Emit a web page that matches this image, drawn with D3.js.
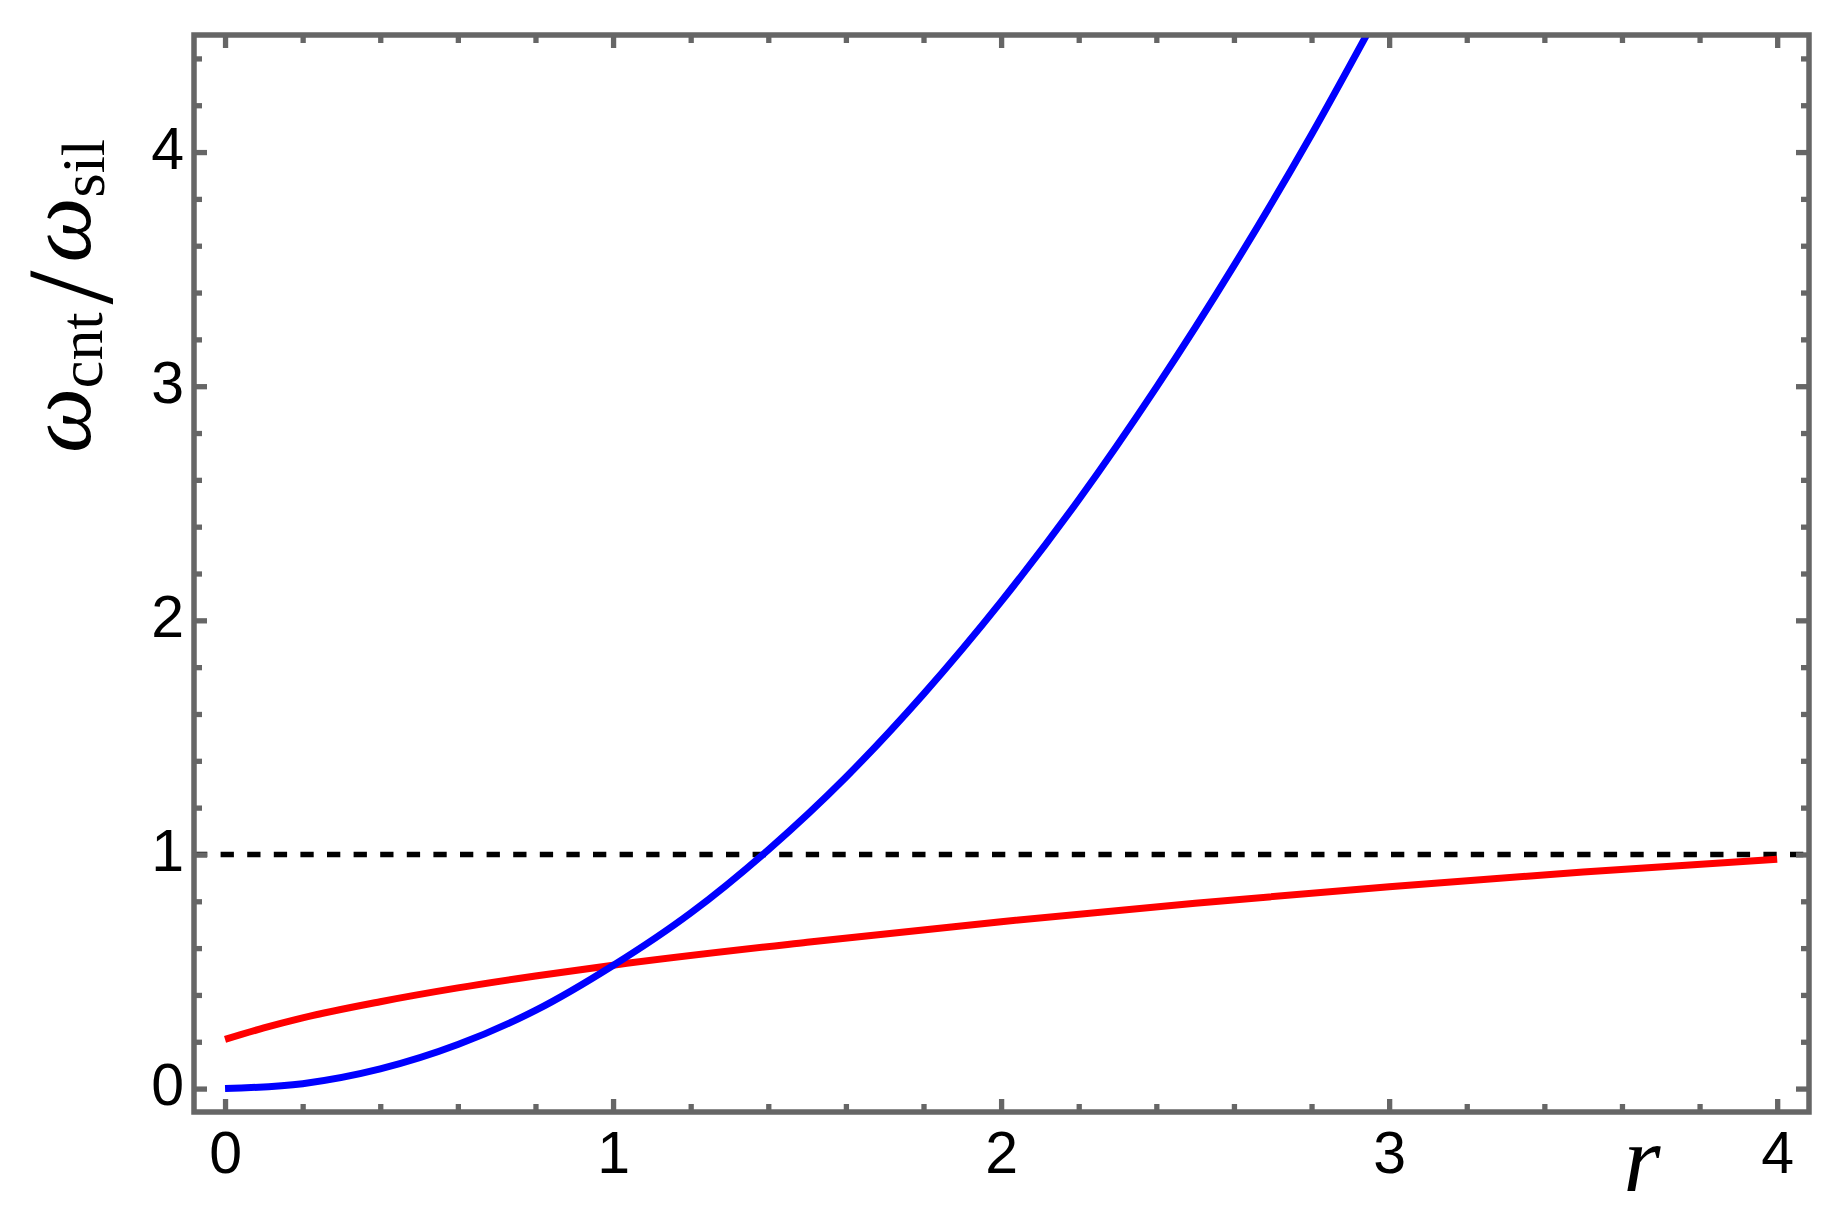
<!DOCTYPE html>
<html><head><meta charset="utf-8">
<script src="https://cdn.jsdelivr.net/npm/d3@7"></script>
<style>body{margin:0;background:#fff} svg{display:block}</style>
</head><body><svg id="c" width="1847" height="1219"></svg>
<script>
// ---- data ----
const rBlue   = [0, 0.2, 0.4, 0.6, 0.8, 1.0, 1.2, 1.4, 1.6, 1.8, 2.0, 2.2, 2.4, 2.6, 2.8, 2.95];
const wBlue   = [0, 0.021, 0.084, 0.188, 0.334, 0.526, 0.75, 1.02, 1.33, 1.685, 2.08, 2.515, 2.995, 3.515, 4.075, 4.525];
const rRed    = [0, 0.1, 0.2, 0.4, 0.6, 0.8, 1.0, 1.5, 2.0, 2.5, 3.0, 3.5, 4.0];
const wRed    = [0.21, 0.259, 0.302, 0.371, 0.43, 0.481, 0.527, 0.625, 0.713, 0.792, 0.862, 0.925, 0.98];
const refLevel = [1];
const xMajor = [0, 1, 2, 3, 4];
const yMajor = [0, 1, 2, 3, 4];
const xTickLabels = ["0", "1", "2", "3", "4"];
const yTickLabels = ["0", "1", "2", "3", "4"];
const xDomain = [-0.08, 4.082];
const yDomain = [-0.1, 4.5];

// ---- layout ----
const mLeft = 194, mRight = 1809, mTop = 35, mBottom = 1112;
const frameColor = "#666666";
const svg = d3.select("#c");
const x = d3.scaleLinear().domain(xDomain).range([mLeft, mRight]);
const y = d3.scaleLinear().domain(yDomain).range([mBottom, mTop]);

const minorOf = (dom) => d3.range(Math.ceil(dom[0] * 5), Math.floor(dom[1] * 5) + 1)
  .map(k => +(k / 5).toFixed(2)).filter(v => Math.abs(v - Math.round(v)) > 1e-6);
const xMinor = minorOf(xDomain);
const yMinor = minorOf(yDomain);

svg.append("defs").append("clipPath").attr("id", "clip")
  .append("rect").attr("x", mLeft).attr("y", mTop).attr("width", mRight - mLeft).attr("height", mBottom - mTop);

const plot = svg.append("g").attr("clip-path", "url(#clip)");

// reference dashed line
plot.selectAll("line.ref").data(refLevel).join("line")
  .attr("class", "ref")
  .attr("x1", mLeft).attr("x2", mRight)
  .attr("y1", d => y(d)).attr("y2", d => y(d))
  .attr("stroke", "#000").attr("stroke-width", 5.5)
  .attr("stroke-dasharray", "13.3 13.3");

const line = d3.line().x(d => x(d[0])).y(d => y(d[1])).curve(d3.curveMonotoneX);
plot.append("path").datum(rRed.map((r, i) => [r, wRed[i]]))
  .attr("d", line).attr("fill", "none").attr("stroke", "#ff0000").attr("stroke-width", 7);
plot.append("path").datum(rBlue.map((r, i) => [r, wBlue[i]]))
  .attr("d", line).attr("fill", "none").attr("stroke", "#0000ff").attr("stroke-width", 7);

// ---- frame and ticks ----
const tickFont = "'Liberation Sans', Arial, Helvetica, sans-serif";
function styleAxis(g) {
  g.select(".domain").remove();
  g.selectAll("line").attr("stroke-width", 5.3);
  g.attr("color", frameColor);
}
function addAxis(maker, scale, transform, vals, size, labels, pad) {
  const ax = maker(scale).tickValues(vals).tickSize(size).tickPadding(pad || 3)
    .tickFormat(labels ? ((d, i) => labels[i]) : () => "");
  const g = svg.append("g").attr("transform", transform).call(ax);
  styleAxis(g);
  return g;
}
// bottom
addAxis(d3.axisBottom, x, `translate(0,${mBottom})`, xMinor, -8);
const gb = addAxis(d3.axisBottom, x, `translate(0,${mBottom})`, xMajor, -13, xTickLabels, 19);
gb.selectAll("text").attr("fill", "#000").style("font-family", tickFont).style("font-size", "59px");
// top
addAxis(d3.axisTop, x, `translate(0,${mTop})`, xMinor, -8);
addAxis(d3.axisTop, x, `translate(0,${mTop})`, xMajor, -13);
// left
addAxis(d3.axisLeft, y, `translate(${mLeft},0)`, yMinor, -8);
const gl = addAxis(d3.axisLeft, y, `translate(${mLeft},0)`, yMajor, -13, yTickLabels, 10);
gl.selectAll("text").attr("fill", "#000").attr("dy", "0.27em").style("font-family", tickFont).style("font-size", "59px");
// right
addAxis(d3.axisRight, y, `translate(${mRight},0)`, yMinor, -8);
addAxis(d3.axisRight, y, `translate(${mRight},0)`, yMajor, -13);

svg.append("rect").attr("x", mLeft).attr("y", mTop).attr("width", mRight - mLeft).attr("height", mBottom - mTop)
  .attr("fill", "none").attr("stroke", frameColor).attr("stroke-width", 5.5);

// ---- axis labels ----
const serif = "'Liberation Serif', 'Times New Roman', Times, serif";
svg.append("text").attr("x", 1642).attr("y", 1191).attr("text-anchor", "middle")
  .style("font-family", serif).style("font-style", "italic").style("font-size", "95px").text("r");

const yl = svg.append("text").attr("transform", "translate(90,296) rotate(-90)")
  .attr("text-anchor", "middle").style("font-family", serif).attr("fill", "#000");
yl.append("tspan").style("font-style", "italic").style("font-size", "92px").text("ω");
yl.append("tspan").style("font-size", "62px").attr("dy", 12).text("cnt");
yl.append("tspan").style("font-size", "122px").attr("dy", 10).attr("dx", 8).text("/");
yl.append("tspan").style("font-style", "italic").style("font-size", "92px").attr("dy", -22).attr("dx", 8).text("ω");
yl.append("tspan").style("font-size", "62px").attr("dy", 14).text("sil");
</script></body></html>
